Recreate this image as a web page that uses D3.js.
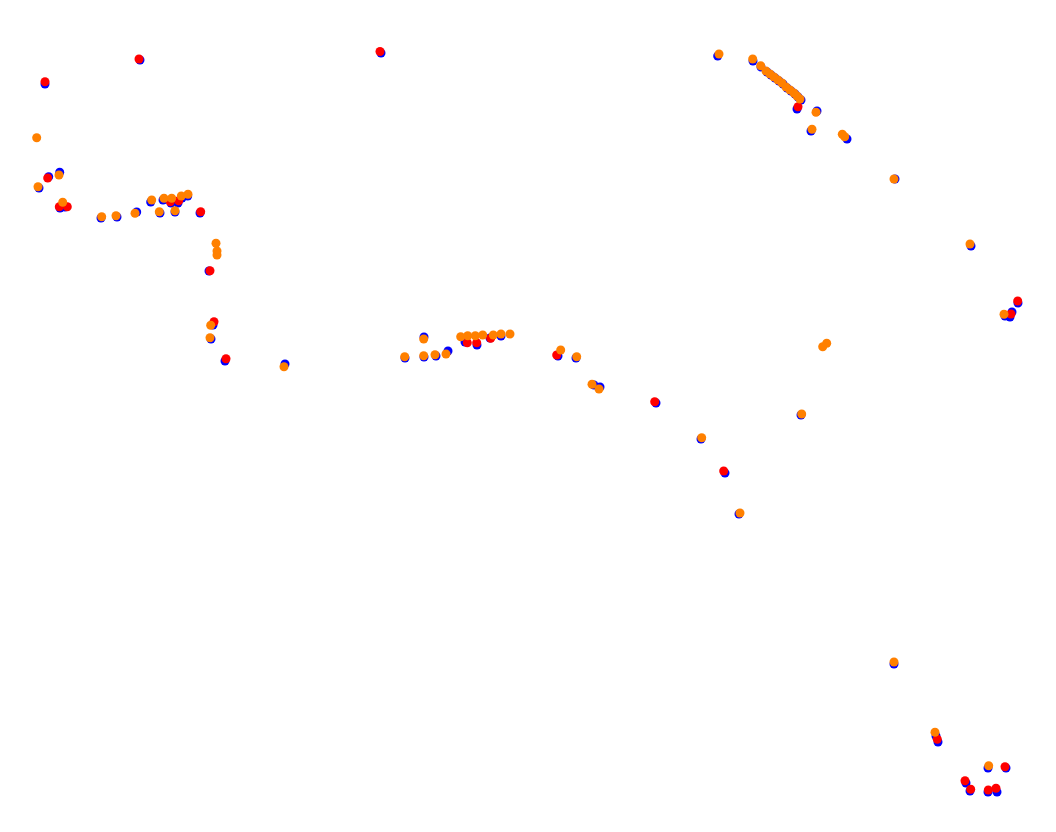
<!DOCTYPE html>
<html>
<head>
<meta charset="utf-8">
<script src="https://cdn.jsdelivr.net/npm/d3@7"></script>
<style>
  html, body { margin: 0; padding: 0; background: #fff; }
  svg { display: block; }
</style>
</head>
<body>
<svg id="chart" width="1056" height="832"></svg>
<script>
// Series: blue (base positions), red and orange overlays. Values in plot units.
const bluePoints = [
  [140,60],[45,84],[48.7,176.7],[59.7,172.3],[39,188],[60,208],[65,207],
  [101,218],[117,217],[136.7,212],[150.7,202],[160,213],[163,200],[171,203],
  [178,203],[175,212],[182,198],[187.7,196],[200,213],
  [209,271],[213,325],[211,339],[225,361],[285,364],
  [405,358],[424,337],[424,357],[436,356],[448,351],[465,342],[477,345],[490,338],[501,336],
  [558,356],[576,358],[594,385],[600,387],[656,403],[701,439],[725,473],[739,514],
  [717.7,56],[753,61],[761,67],[767,72],[771,75],[775,78],[779,81],[783,84],[787,88],
  [791,91],[795,94],[798,97],[801,100],[797,109],[817,111],[811,131],[847,139],
  [895,179],[971,246],[1018,303],[1010,317],[1012,312],[1005,316],[801,415],
  [894,664],[936,736],[938,742],[988,768],[1006,768],[966,783],[970,791],[988,792],[997,792],
  [381,53]
];
const redPoints = [
  [139,59],[45,81.7],[47.7,178],[59.3,206.7],[67.3,206.7],[170.3,201.7],[178.7,200.7],[200.7,211.7],
  [210,270.7],[214,321.7],[226,358.7],
  [467.3,342.7],[476.7,342.7],[490.7,338.3],
  [556.7,355],[654.7,401.7],[723.7,471],[798,106.7],
  [1017.7,301],[1011,314],
  [937.3,739.3],[1005,766.7],[965,780.7],[970.7,789.3],[988.3,790],[996,788.3],
  [380,51.5]
];
const orangePoints = [
  [36.7,137.7],[59,175],[38,186.7],[62.7,202.3],[101.7,216.7],[116,215.7],[135,213.3],
  [151.7,200],[159.3,211.7],[164,198.3],[171.7,198.3],[175,210.7],[181.3,196],[188,194.3],
  [216,243.3],[217,251],[217,255],[210.7,325.3],[210,337.7],[284,366.7],
  [404.7,356.7],[423.7,339],[423.7,355.7],[435,354.7],[446,354],[460.7,336.7],[467.7,335.7],
  [475.3,335.7],[482.7,335],[493.3,335],[501,334],[510,334],
  [560.7,350],[576.7,356.7],[592,384.3],[599,389],[701.7,437.7],[740,513],
  [719,54],[752.7,59],[760.7,65.7],[766,71],[770,74],[774,77],[778,80],[782,83],[786,87],
  [790,90],[794,93],[797,96],[800,99],[816,112.3],[812,129.3],[842.3,134.3],[844.7,136.7],
  [894,179],[970,244],[1004,314.3],[822.7,346.7],[826.7,343.3],[801.7,414],
  [894,662],[935,732.3],[988.7,765.7]
];

const width = 1056, height = 832;
const svg = d3.select("#chart");
const x = d3.scaleLinear().domain([0, 1056]).range([0, width]);
const y = d3.scaleLinear().domain([0, 832]).range([0, height]);
const r = 4.5;

const series = [
  { data: bluePoints, color: "#0000ff" },
  { data: redPoints, color: "#ff0000" },
  { data: orangePoints, color: "#ff8000" }
];

series.forEach(s => {
  svg.append("g")
    .selectAll("circle")
    .data(s.data)
    .join("circle")
    .attr("cx", d => x(d[0]))
    .attr("cy", d => y(d[1]))
    .attr("r", r)
    .attr("fill", s.color);
});
</script>
</body>
</html>
